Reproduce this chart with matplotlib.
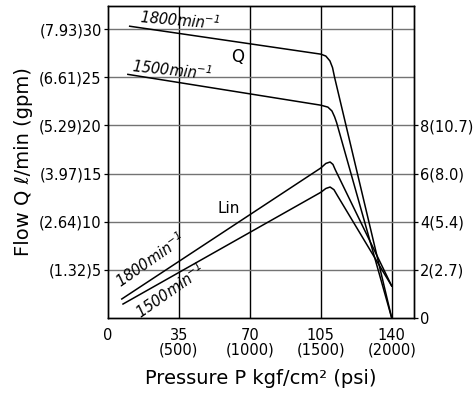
"""
pump_characteristics.py

Plots the pressure/flow (Q) and input power (Lin) characteristic curves
of the pump at 1500 and 1800 min^-1, with dual units on both axes.
"""

import matplotlib

matplotlib.use("Agg")
import matplotlib.pyplot as plt

plt.rcParams["mathtext.default"] = "regular"

# Pressure axis ticks (kgf/cm2) and their psi equivalents
pressure_ticks = [0, 35, 70, 105, 140]
pressure_labels = ["0", "35\n(500)", "70\n(1000)", "105\n(1500)", "140\n(2000)"]

# Flow axis ticks (L/min) with gpm equivalents
flow_ticks = [5, 10, 15, 20, 25, 30]
flow_labels = ["(1.32)5", "(2.64)10", "(3.97)15", "(5.29)20", "(6.61)25", "(7.93)30"]

# Input power axis ticks (kW) with hp equivalents
power_ticks = [0, 2, 4, 6, 8]
power_labels = ["0", "2(2.7)", "4(5.4)", "6(8.0)", "8(10.7)"]

# Flow curves Q (L/min) vs pressure (kgf/cm2)
q_1800_p = [10.7, 105.0, 107.5, 109.5, 110.8, 111.8, 140.0]
q_1800_f = [30.3, 27.4, 27.2, 26.7, 26.0, 25.0, 0.0]
q_1500_p = [9.8, 105.0, 108.5, 110.5, 111.8, 112.8, 140.0]
q_1500_f = [25.3, 22.1, 21.9, 21.5, 20.9, 20.3, 0.0]

# Input power curves Lin (kW) vs pressure (kgf/cm2)
lin_1800_p = [6.8, 105.0, 107.5, 109.6, 111.0, 112.2, 140.0]
lin_1800_kw = [0.79, 6.23, 6.42, 6.48, 6.38, 6.15, 1.33]
lin_1500_p = [7.4, 105.0, 107.5, 109.6, 111.5, 113.1, 140.0]
lin_1500_kw = [0.58, 5.22, 5.38, 5.44, 5.33, 5.10, 1.33]

X_MAX = 151.0
FLOW_MAX = 32.4
KW_PER_LPM = 0.4  # right scale: 2 kW per 5 L/min

SPEED_1800 = r"1800min$^{-1}$"
SPEED_1500 = r"1500min$^{-1}$"


def draw_grid(ax):
    """Vertical pressure lines and horizontal flow lines."""
    for p in pressure_ticks[1:]:
        ax.axvline(p, color="black", lw=1.0, zorder=1)
    for f in flow_ticks:
        ax.axhline(f, color="0.45", lw=1.0, zorder=1)


def plot_chart(path="out.png"):
    fig = plt.figure(figsize=(4.75, 3.96), dpi=100)
    ax = fig.add_axes([108 / 475, 78 / 396, 306 / 475, 312 / 396])
    ax_r = ax.twinx()

    draw_grid(ax)

    ax.plot(q_1800_p, q_1800_f, color="black", lw=1.1, zorder=3)
    ax.plot(q_1500_p, q_1500_f, color="black", lw=1.1, zorder=3)
    ax_r.plot(lin_1800_p, lin_1800_kw, color="black", lw=1.1, zorder=3)
    ax_r.plot(lin_1500_p, lin_1500_kw, color="black", lw=1.1, zorder=3)

    ax.set_xlim(0, X_MAX)
    ax.set_ylim(0, FLOW_MAX)
    ax_r.set_ylim(0, FLOW_MAX * KW_PER_LPM)

    ax.set_xticks(pressure_ticks)
    ax.set_xticklabels(pressure_labels, linespacing=1.0)
    ax.set_yticks(flow_ticks)
    ax.set_yticklabels(flow_labels)
    ax_r.set_yticks(power_ticks)
    ax_r.set_yticklabels(power_labels)

    ax.tick_params(axis="x", length=0, pad=7, labelsize=10.5)
    ax.tick_params(axis="y", length=3, width=0.9, pad=1.5, labelsize=10.5)
    ax_r.tick_params(axis="y", length=3, width=0.9, pad=1.5, labelsize=10.5)

    for a in (ax, ax_r):
        for s in a.spines.values():
            s.set_linewidth(1.0)

    ax.set_xlabel("Pressure P kgf/cm² (psi)", fontsize=14)
    ax.xaxis.set_label_coords(0.498, -0.165)
    ax.set_ylabel("Flow Q ℓ/min (gpm)", fontsize=14)
    ax.yaxis.set_label_coords(-0.245, 0.5)

    # Curve labels
    lbl = dict(fontsize=10.5, style="italic", rotation_mode="anchor")
    ax.text(15.5, 30.6, SPEED_1800, rotation=-5, ha="left", va="baseline", **lbl)
    ax.text(11.3, 25.5, SPEED_1500, rotation=-6, ha="left", va="baseline", **lbl)
    ax.text(6.5, 3.1, SPEED_1800, rotation=35, ha="left", va="baseline", **lbl)
    ax.text(12.0, 1.2, SPEED_1500, rotation=35, ha="left", va="top", **lbl)
    ax.text(63.8, 27.1, "Q", fontsize=12, ha="center", va="center")
    ax.text(59.4, 11.4, "Lin", fontsize=11, ha="center", va="center")

    fig.savefig(path, dpi=100)


if __name__ == "__main__":
    plot_chart()
